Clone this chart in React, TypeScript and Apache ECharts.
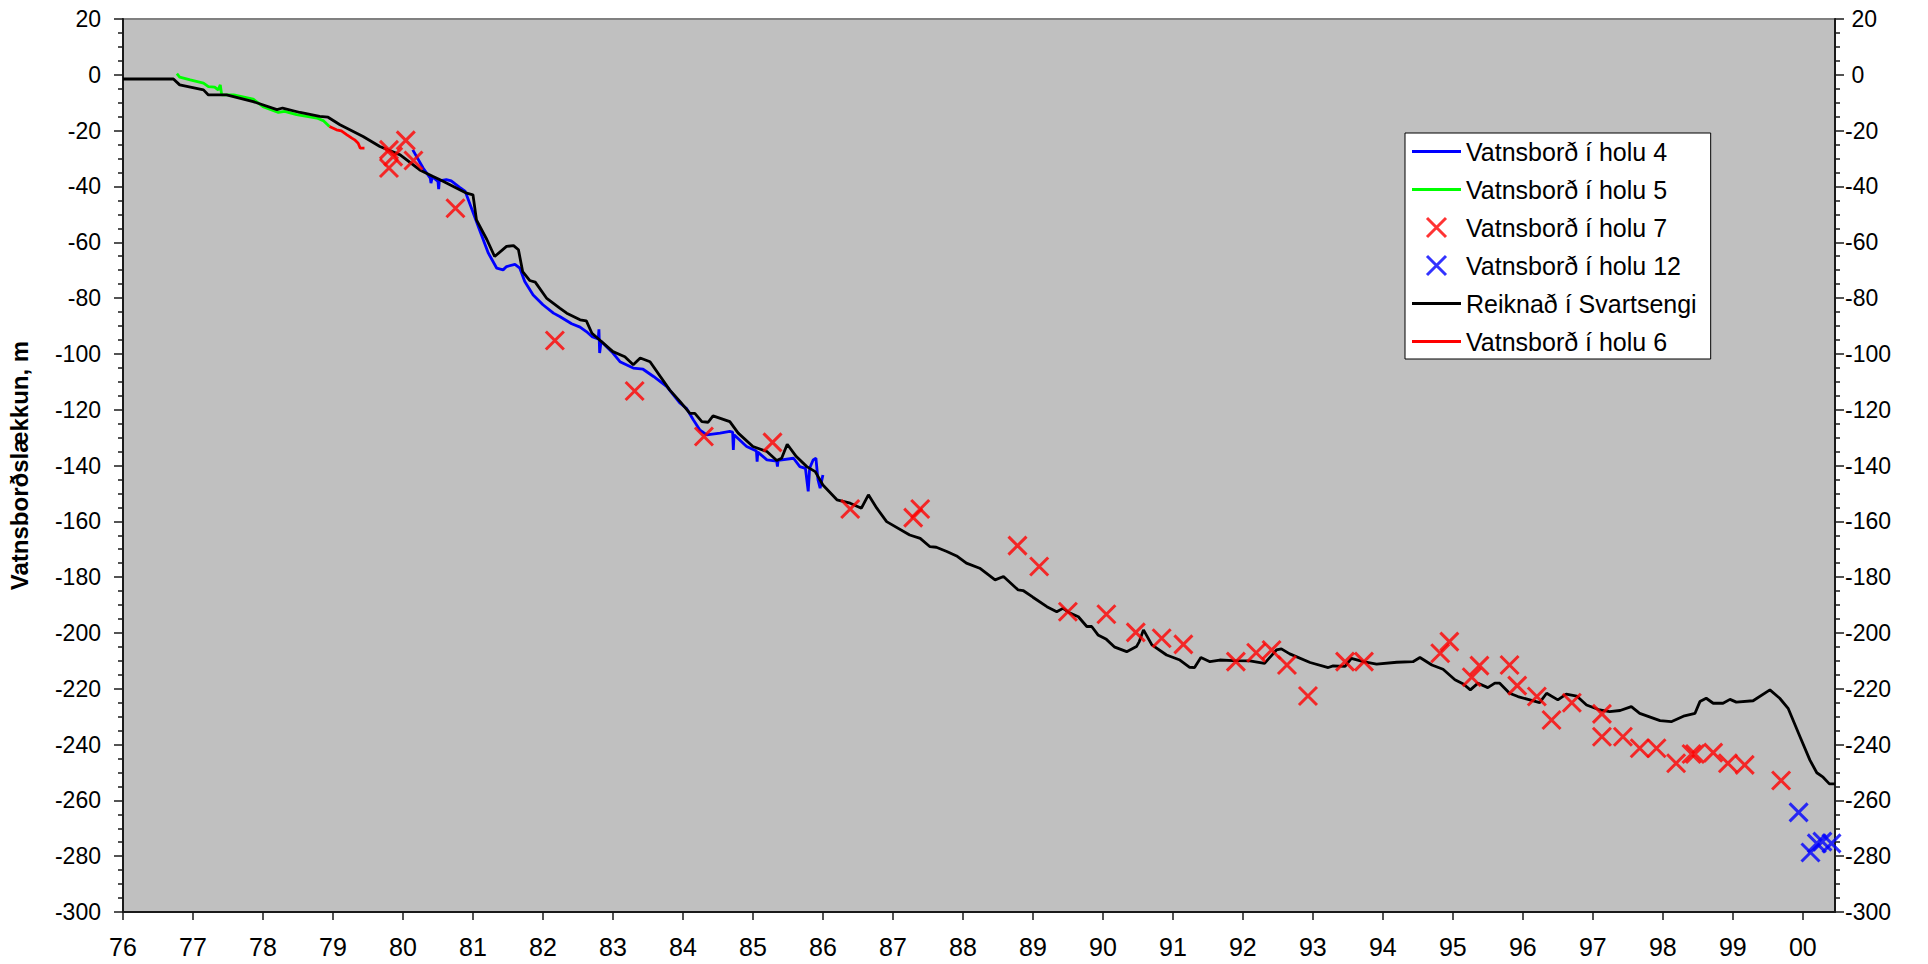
import React, { useEffect, useRef } from "react";
import * as echarts from "echarts";

// ---- Data (decimal year, value in m) ----
const xTickYears = [1976, 1977, 1978, 1979, 1980, 1981, 1982, 1983, 1984, 1985, 1986, 1987, 1988, 1989, 1990, 1991, 1992, 1993, 1994, 1995, 1996, 1997, 1998, 1999, 2000];

const hola4: [number, number][] = [
  [1980.14, -26.9], [1980.29, -33.5], [1980.39, -37], [1980.4, -38.8], [1980.42, -36.5], [1980.5, -38.2], [1980.51, -41.0], [1980.52, -38],
  [1980.62, -37.6], [1980.69, -38], [1980.81, -40.3], [1980.89, -41.8], [1981.1, -56], [1981.22, -63.9], [1981.34, -69.3],
  [1981.43, -69.9], [1981.48, -68.7], [1981.6, -67.9], [1981.67, -69.3], [1981.74, -74.1], [1981.86, -78.9], [1982.0, -82.4],
  [1982.15, -85.4], [1982.24, -86.6], [1982.41, -89.2], [1982.53, -90.4], [1982.62, -92], [1982.7, -93.8], [1982.79, -94.6],
  [1982.8, -91.2], [1982.81, -99.7], [1982.83, -95.5], [1983.0, -99.7], [1983.1, -102.8], [1983.29, -105.1], [1983.43, -105.5],
  [1983.58, -108.1], [1983.77, -111.7], [1983.96, -117.7], [1984.05, -119.5], [1984.15, -123.7], [1984.24, -127.2], [1984.34, -129],
  [1984.53, -128.4], [1984.67, -127.8], [1984.71, -128], [1984.72, -134.4], [1984.73, -129], [1984.91, -133.2], [1985.05, -134.8],
  [1985.06, -138.6], [1985.07, -135.2], [1985.2, -138], [1985.34, -138.4], [1985.35, -140.4], [1985.36, -138.2], [1985.58, -137.4],
  [1985.67, -140.4], [1985.75, -141], [1985.79, -149.3], [1985.81, -141], [1985.86, -138], [1985.9, -137.4], [1985.93, -145.2],
  [1985.96, -148.1], [1986.0, -143.4]
];

const hola5: [number, number][] = [
  [1976.77, 0.4], [1976.81, -0.8], [1976.96, -1.8], [1977.15, -3.0], [1977.22, -4.2], [1977.31, -4.4], [1977.36, -5.4],
  [1977.39, -3.6], [1977.41, -7.2], [1977.58, -7.2], [1977.86, -8.7], [1978.0, -11.4], [1978.22, -13.5], [1978.31, -13.1],
  [1978.48, -14.3], [1978.77, -15.5], [1978.86, -16.4], [1978.95, -18.5]
];

const hola6: [number, number][] = [
  [1978.95, -18.5], [1979.05, -19.7], [1979.12, -20.1], [1979.2, -21.5], [1979.27, -22.7], [1979.31, -23.3], [1979.36, -24.5],
  [1979.39, -26.3], [1979.45, -26.3]
];

const hola7: [number, number][] = [
  [1979.8, -26.9], [1979.86, -29.3], [1979.8, -33.4], [1980.04, -23.5], [1980.15, -30.7], [1980.75, -47.8], [1982.17, -95.2],
  [1983.31, -113.3], [1984.3, -129.6], [1985.28, -131.7], [1986.39, -155.6], [1987.29, -158.7], [1987.39, -155.6], [1988.78, -168.7],
  [1989.09, -176.2], [1989.5, -192.4], [1990.05, -193.3], [1990.47, -199.8], [1990.84, -201.9], [1991.15, -204.1], [1991.9, -210.3],
  [1992.19, -207.1], [1992.41, -206.1], [1992.63, -211.5], [1992.93, -222.6], [1993.46, -210.3], [1993.73, -210.3], [1994.82, -207.3],
  [1994.95, -203.1], [1995.27, -215.9], [1995.38, -211.7], [1995.81, -211.5], [1995.92, -218.9], [1996.2, -222.8], [1996.41, -231.2],
  [1996.7, -225], [1997.13, -229], [1997.13, -237.2], [1997.43, -237.2], [1997.67, -241.3], [1997.91, -241.3], [1998.19, -246.7],
  [1998.41, -243.4], [1998.46, -243.4], [1998.72, -242.9], [1998.93, -246.7], [1999.17, -247.3], [1999.69, -252.9]
];

const hola12: [number, number][] = [
  [1999.94, -264.3], [2000.11, -278.7], [2000.2, -275.4], [2000.28, -274.8], [2000.41, -275.4]
];

const svartsengi: [number, number][] = [
  [1976.0, -1.5], [1976.72, -1.5], [1976.81, -3.6], [1977.15, -5.4], [1977.22, -7.2], [1977.48, -7.2], [1977.86, -9.6],
  [1978.2, -12.5], [1978.28, -11.9], [1978.53, -13.5], [1978.81, -14.9], [1978.93, -15.2], [1979.1, -17.9], [1979.43, -22.1],
  [1979.67, -25.7], [1979.96, -28.7], [1980.24, -34.1], [1980.43, -36.4], [1980.53, -37.6], [1980.91, -42.4], [1981.0, -43.0],
  [1981.05, -52], [1981.2, -59.1], [1981.31, -65.1], [1981.48, -61.5], [1981.58, -61.2], [1981.65, -62.7], [1981.71, -70.5],
  [1981.81, -73.7], [1981.89, -74.3], [1982.05, -80], [1982.24, -83.6], [1982.34, -85.4], [1982.53, -87.8], [1982.62, -88.2],
  [1982.7, -92.6], [1983.0, -99.2], [1983.17, -101], [1983.29, -103.9], [1983.39, -101.5], [1983.53, -102.8], [1983.81, -112.9],
  [1983.96, -117.1], [1984.1, -121.3], [1984.17, -121.3], [1984.27, -124.3], [1984.36, -124.5], [1984.43, -122.2], [1984.67, -124.3],
  [1984.79, -128.4], [1985.0, -133.2], [1985.2, -135], [1985.34, -138.2], [1985.41, -137.4], [1985.49, -132.4], [1985.62, -136.8],
  [1985.77, -140.4], [1985.89, -142.2], [1986.0, -147], [1986.2, -152.3], [1986.39, -153.5], [1986.55, -155.3], [1986.65, -150.5],
  [1986.77, -155.3], [1986.91, -160.1], [1987.24, -164.9], [1987.39, -166.1], [1987.53, -169.1], [1987.62, -169.3], [1987.77, -170.8],
  [1987.91, -172.4], [1988.05, -175], [1988.24, -176.8], [1988.46, -181], [1988.58, -179.8], [1988.79, -184.6], [1988.86, -184.8],
  [1989.0, -187.2], [1989.2, -190.6], [1989.34, -192.4], [1989.43, -191.2], [1989.53, -192.9], [1989.65, -194.2], [1989.77, -197.7],
  [1989.84, -197.7], [1989.93, -200.7], [1990.05, -202.3], [1990.17, -205.1], [1990.34, -206.7], [1990.48, -204.9], [1990.52, -203.1],
  [1990.58, -198.9], [1990.7, -204.3], [1990.91, -207.9], [1991.1, -209.7], [1991.24, -212.3], [1991.31, -212.4], [1991.4, -208.8],
  [1991.53, -210.3], [1991.67, -209.7], [1991.86, -209.9], [1992.1, -210], [1992.31, -210.9], [1992.48, -206.1], [1992.55, -205.7],
  [1992.67, -207.5], [1992.96, -210.6], [1993.22, -212.4], [1993.29, -211.8], [1993.46, -212], [1993.55, -209.1], [1993.72, -210.3],
  [1993.91, -211.2], [1994.2, -210.5], [1994.43, -210.3], [1994.53, -208.8], [1994.7, -211.5], [1994.86, -213], [1995.03, -216.8],
  [1995.15, -218.3], [1995.25, -220.4], [1995.36, -218], [1995.5, -219.6], [1995.6, -218], [1995.67, -218], [1995.81, -221.6],
  [1995.93, -222.8], [1996.1, -224], [1996.24, -225], [1996.34, -221.6], [1996.5, -224], [1996.62, -221.9], [1996.77, -222.6],
  [1996.91, -225.8], [1997.1, -227.6], [1997.24, -228.2], [1997.39, -227.8], [1997.55, -226.4], [1997.67, -228.8], [1997.96, -231.4],
  [1998.12, -231.8], [1998.31, -229.7], [1998.46, -228.8], [1998.53, -224.6], [1998.62, -223.4], [1998.72, -225.2], [1998.86, -225.2],
  [1998.96, -223.8], [1999.05, -224.8], [1999.29, -224.3], [1999.53, -220.4], [1999.67, -223.4], [1999.79, -227], [1999.96, -237.2],
  [2000.1, -245.5], [2000.2, -250.1], [2000.29, -251.7], [2000.38, -254.1], [2000.46, -254.1]
];

const seriesNames = [
  "Vatnsborð í holu 4",
  "Vatnsborð í holu 5",
  "Vatnsborð í holu 7",
  "Vatnsborð í holu 12",
  "Reiknað í Svartsengi",
  "Vatnsborð í holu 6",
];

const FONT = "'Liberation Sans', Arial, sans-serif";
const XSYM = "path://M0 0L10 10M10 0L0 10";
const LINEICON = "path://M0 0L49 0L49 2.8L0 2.8Z";

export default function App() {
  const ref = useRef<HTMLDivElement>(null);
  useEffect(() => {
    document.body.style.margin = "0";
    if (!ref.current) return;
    const chart = echarts.init(ref.current, undefined, { renderer: "svg" });
    const yAxisBase = {
      type: "value",
      min: -300,
      max: 20,
      interval: 20,
      splitLine: { show: false },
      axisLine: { show: true, lineStyle: { color: "#1a1a1a", width: 2 } },
      axisTick: { show: true, inside: false, length: 9, lineStyle: { color: "#1a1a1a", width: 1.5 } },
      minorTick: { show: true, splitNumber: 4, length: 5, lineStyle: { color: "#1a1a1a", width: 1.5 } },
      minorSplitLine: { show: false },
    };
    const lineSeries = (name: string, data: [number, number][], color: string) => ({
      name,
      type: "line",
      data,
      symbol: "none",
      lineStyle: { color, width: 2.8 },
      itemStyle: { color },
      z: 3,
    });
    const xSeries = (name: string, data: [number, number][], color: string) => ({
      name,
      type: "scatter",
      data,
      symbol: XSYM,
      symbolSize: 18,
      itemStyle: { color: "rgba(0,0,0,0)", borderColor: color, borderWidth: 3 },
      z: 4,
    });
    const lineLegend = (name: string, color: string) => ({
      name,
      icon: LINEICON,
      itemStyle: { color, borderWidth: 0 },
    });
    const xLegend = (name: string, color: string) => ({
      name,
      icon: XSYM,
      itemStyle: { color: "rgba(0,0,0,0)", borderColor: color, borderWidth: 3 },
    });
    chart.setOption({
      animation: false,
      textStyle: { fontFamily: FONT },
      grid: {
        left: 123,
        right: 93,
        top: 19,
        bottom: 52,
        show: true,
        backgroundColor: "#c0c0c0",
        borderColor: "#808080",
        borderWidth: 2,
        containLabel: false,
        outerBoundsMode: "none",
      },
      legend: {
        orient: "vertical",
        left: 1405,
        top: 133,
        backgroundColor: "#ffffff",
        borderColor: "#000000",
        borderWidth: 1,
        borderRadius: 0,
        padding: [6, 14, 5, 7],
        itemWidth: 49,
        itemHeight: 19,
        itemGap: 13,
        textStyle: { fontFamily: FONT, fontSize: 25, color: "#000" },
        data: [
          lineLegend(seriesNames[0], "#0000ff"),
          lineLegend(seriesNames[1], "#00ff00"),
          xLegend(seriesNames[2], "#ff0000"),
          xLegend(seriesNames[3], "#0000ff"),
          lineLegend(seriesNames[4], "#000000"),
          lineLegend(seriesNames[5], "#ff0000"),
        ],
      },
      xAxis: {
        type: "value",
        min: 1976,
        max: 2000.46,
        interval: 1,
        splitLine: { show: false },
        axisLine: { show: true, onZero: false, lineStyle: { color: "#1a1a1a", width: 2 } },
        axisTick: { show: true, length: 8, customValues: xTickYears, lineStyle: { color: "#1a1a1a", width: 1.5 } },
        axisLabel: {
          customValues: xTickYears,
          margin: 22,
          fontSize: 25,
          color: "#000",
          fontFamily: FONT,
          showMaxLabel: true,
          formatter: (v: number) => (Math.abs(v - Math.round(v)) > 1e-6 ? "" : String(Math.round(v) % 100).padStart(2, "0")),
        },
      },
      yAxis: [
        {
          ...yAxisBase,
          position: "left",
          name: "Vatnsborðslækkun, m",
          nameLocation: "middle",
          nameRotate: 90,
          nameGap: 92,
          nameTextStyle: { fontFamily: FONT, fontSize: 24, fontWeight: "bold", color: "#000" },
          axisLabel: { margin: 22, fontSize: 23, color: "#000", fontFamily: FONT },
        },
        {
          ...yAxisBase,
          position: "right",
          axisLabel: {
            margin: 10,
            fontSize: 23,
            color: "#000",
            fontFamily: FONT,
            formatter: (v: number) => (v >= 0 ? " " + v : String(v)),
          },
        },
      ],
      series: [
        lineSeries(seriesNames[0], hola4, "#0000ff"),
        lineSeries(seriesNames[1], hola5, "#00ff00"),
        xSeries(seriesNames[2], hola7, "#ff0000"),
        xSeries(seriesNames[3], hola12, "#0000ff"),
        lineSeries(seriesNames[4], svartsengi, "#000000"),
        lineSeries(seriesNames[5], hola6, "#ff0000"),
      ],
    });
    return () => chart.dispose();
  }, []);
  return <div ref={ref} style={{ width: "1928px", height: "964px" }} />;
}
